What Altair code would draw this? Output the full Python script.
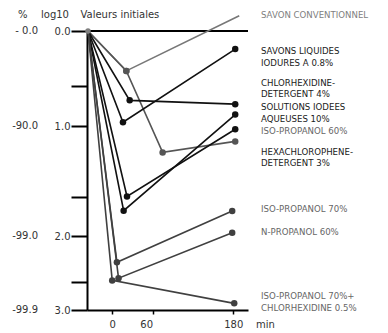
import altair as alt
import pandas as pd

# ---- data ----
series = [
    "SAVON CONVENTIONNEL",
    "ISO-PROPANOL 60%",
    "SAVONS LIQUIDES IODURES A 0.8%",
    "CHLORHEXIDINE-DETERGENT 4%",
    "SOLUTIONS IODEES AQUEUSES 10%",
    "HEXACHLOROPHENE-DETERGENT 3%",
    "ISO-PROPANOL 70%",
    "N-PROPANOL 60%",
    "ISO-PROPANOL 70%+ CHLORHEXIDINE 0.5%",
]
times = [
    [-36, 21, 189],
    [-36, 21, 75, 183],
    [-36, 16, 183],
    [-36, 26, 183],
    [-36, 17, 183],
    [-36, 22, 183],
    [-36, 7, 178.5],
    [-36, 9.4, 178.5],
    [-36, 0, 181.5],
]
values = [
    [0, 0.42, -0.16],
    [0, 0.42, 1.24, 1.14],
    [0, 0.96, 0.19],
    [0, 0.73, 0.77],
    [0, 1.77, 0.88],
    [0, 1.64, 1.03],
    [0, 2.355, 1.773],
    [0, 2.57, 1.97],
    [0, 2.60, 2.91],
]
series_colors = ["#777777", "#555555", "#111111", "#111111", "#111111",
                 "#111111", "#404040", "#404040", "#404040"]
marker_skip_last = ["SAVON CONVENTIONNEL"]

log_ticks = [0, 0.579, 1, 1.645, 2, 2.622, 3]
log_major = [0, 1, 2, 3]
pct_labels = ["- 0.0", "-90.0", "-99.0", "-99.9"]
x_ticks = [0, 60, 180]

right_labels = [
    (["SAVON CONVENTIONNEL"], "#808080"),
    (["SAVONS LIQUIDES", "IODURES A 0.8%"], "#1a1a1a"),
    (["CHLORHEXIDINE-", "DETERGENT 4%"], "#1a1a1a"),
    (["SOLUTIONS IODEES", "AQUEUSES 10%"], "#1a1a1a"),
    (["ISO-PROPANOL 60%"], "#666666"),
    (["HEXACHLOROPHENE-", "DETERGENT 3%"], "#1a1a1a"),
    (["ISO-PROPANOL 70%"], "#666666"),
    (["N-PROPANOL 60%"], "#666666"),
    (["ISO-PROPANOL 70%+", "CHLORHEXIDINE 0.5%"], "#666666"),
]
# layout: vertical centre of the first line of each label block (pixels within plot area)
right_label_y = [-16.3, 20, 51.7, 76.3, 100.3, 120.7, 178.3, 200.7, 265]

# ---- tables ----
rows = []
for s, ts, vs in zip(series, times, values):
    for i, (t, v) in enumerate(zip(ts, vs)):
        marker = i > 0 and not (s in marker_skip_last and i == len(ts) - 1)
        rows.append({"series": s, "t": t, "v": v, "i": i, "marker": marker})
df = pd.DataFrame(rows)
pts = df[df["marker"]]
start = df[df["i"] == 0].head(1)
pct_df = pd.DataFrame({"v": log_major, "label": pct_labels})
zero_df = pd.DataFrame({"v": [0]})

W, H = 161, 279
font = "DejaVu Sans"

xscale = alt.Scale(domain=[-37.5, 202], nice=False, zero=False)
yscale = alt.Scale(domain=[0, 1, 2, 3], range=[0, 95, 205, 279], nice=False, zero=False)

xaxis = alt.Axis(values=x_ticks, title=None, grid=False, tickSize=4, tickWidth=1.5,
                 tickColor="black", domainColor="black", domainWidth=2,
                 labelFont=font, labelFontSize=10, labelColor="#333333", labelPadding=5,
                 labelAlign={"condition": {"test": "datum.value == 60", "value": "right"},
                             "value": "center"})
yaxis = alt.Axis(values=log_ticks, title=None, grid=False, tickSize=16, tickWidth=2,
                 tickColor="black", domainColor="black", domainWidth=2,
                 labelFont=font, labelFontSize=10, labelColor="#333333", labelPadding=1,
                 labelExpr="abs(datum.value - round(datum.value)) < 0.001 ? format(datum.value, '.1f') : ''")

X = alt.X("t:Q", scale=xscale, axis=xaxis)
Y = alt.Y("v:Q", scale=yscale, axis=yaxis)
C = alt.Color("series:N", scale=alt.Scale(domain=series, range=series_colors), legend=None)

lines = alt.Chart(df).mark_line(strokeWidth=1.6).encode(x=X, y=Y, color=C, detail="series:N", order="i:Q")
points = alt.Chart(pts).mark_point(filled=True, size=42, opacity=1).encode(x=X, y=Y, color=C)
start_pt = alt.Chart(start).mark_point(filled=True, size=30, opacity=1, color="#808080").encode(x=X, y=Y)
zero_rule = alt.Chart(zero_df).mark_rule(color="black", strokeWidth=2).encode(
    y=Y, x=alt.value(0), x2=alt.value(W))
pct_text = alt.Chart(pct_df).mark_text(align="right", baseline="middle", font=font,
                                       fontSize=10, color="#333333").encode(
    y=Y, x=alt.value(-49), text="label:N")

dummy = alt.Data(values=[{}])


def txt(text, x, y, color="#333333", size=10, align="left"):
    return alt.Chart(dummy).mark_text(text=text, align=align, baseline="middle", font=font,
                                      fontSize=size, color=color, lineHeight=11.7).encode(
        x=alt.value(x), y=alt.value(y))


layers = [zero_rule, lines, points, start_pt, pct_text,
          txt("%", -64.3, -16, align="center"),
          txt("log10", -32, -16, align="center"),
          txt("Valeurs initiales", -6.5, -16),
          txt("min", 169, 294)]
for (lab, col), yy in zip(right_labels, right_label_y):
    layers.append(txt(lab if len(lab) > 1 else lab[0], 174, yy, color=col, size=8.6))

chart = alt.layer(*layers).properties(
    width=W, height=H,
    autosize=alt.AutoSizeParams(type="none"),
    padding={"left": 79, "top": 23, "right": 132, "bottom": 23},
).configure_view(strokeWidth=0)

chart.save("out.html", embed_options={"renderer": "svg", "actions": False})
